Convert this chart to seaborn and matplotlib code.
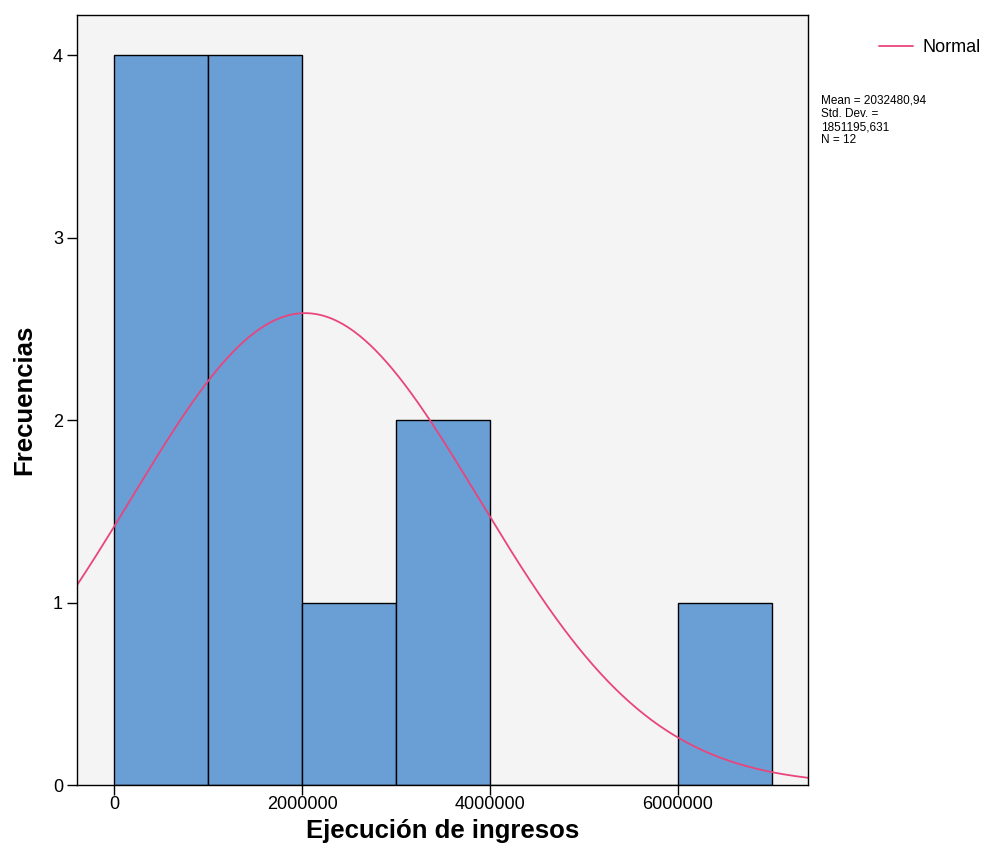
import numpy as np
import pandas as pd
import seaborn as sns
import matplotlib.pyplot as plt

# histogram data
bin_edges = [0, 1000000, 2000000, 3000000, 4000000, 5000000, 6000000, 7000000]
counts = [4, 4, 1, 2, 0, 0, 1]
mean_val = 2032480.94
std_val = 1851195.631
n_obs = 12
x_ticks = [0, 2000000, 4000000, 6000000]
y_ticks = [0, 1, 2, 3, 4]

sns.set_style("white")
plt.rcParams['font.family'] = ['Liberation Sans', 'DejaVu Sans']
plt.rcParams['text.color'] = 'black'
plt.rcParams['axes.labelcolor'] = 'black'
plt.rcParams['xtick.color'] = 'black'
plt.rcParams['ytick.color'] = 'black'

fig = plt.figure(figsize=(9.96, 8.66), dpi=100)
ax = fig.add_axes([0.0773, 0.0935, 0.7339, 0.8892])
ax.set_facecolor('#f4f4f4')

df = pd.DataFrame({
    'centro': [(a + b) / 2 for a, b in zip(bin_edges[:-1], bin_edges[1:])],
    'n': counts,
})
sns.histplot(data=df, x='centro', weights='n', bins=bin_edges, ax=ax,
             color='#6a9fd6', alpha=1.0, edgecolor='black', linewidth=1.0)

# normal curve scaled to counts
xs = np.linspace(-400000, 7400000, 400)
bw = bin_edges[1] - bin_edges[0]
ys = n_obs * bw * np.exp(-0.5 * ((xs - mean_val) / std_val) ** 2) / (std_val * np.sqrt(2 * np.pi))
sns.lineplot(x=xs, y=ys, ax=ax, color='#e8457d', linewidth=1.3, label='Normal')

ax.set_xlim(-394000, 7383000)
ax.set_ylim(0, 4.22)
ax.set_xticks(x_ticks)
ax.set_xticklabels([str(t) for t in x_ticks], fontsize=13)
ax.set_yticks(y_ticks)
ax.set_yticklabels([str(t) for t in y_ticks], fontsize=13)
ax.tick_params(axis='both', direction='out', length=7, width=1.0, color='black',
               bottom=True, left=True, pad=3)
ax.tick_params(axis='x', pad=1)
for s in ax.spines.values():
    s.set_color('black')
    s.set_linewidth(1.0)

ax.set_xlabel('Ejecución de ingresos', fontsize=18.5, fontweight='bold', labelpad=4)
ax.set_ylabel('Frecuencias', fontsize=18.5, fontweight='bold', labelpad=12)

ax.legend(loc='upper left', bbox_to_anchor=(1.075, 0.99), frameon=False,
          fontsize=13, handlelength=1.9, handletextpad=0.5)

fig.text(0.824, 0.891,
         f"Mean = 2032480,94\nStd. Dev. =\n1851195,631\nN = {n_obs}",
         fontsize=8.5, va='top', ha='left', linespacing=1.15)

fig.savefig('out.png', dpi=100)
